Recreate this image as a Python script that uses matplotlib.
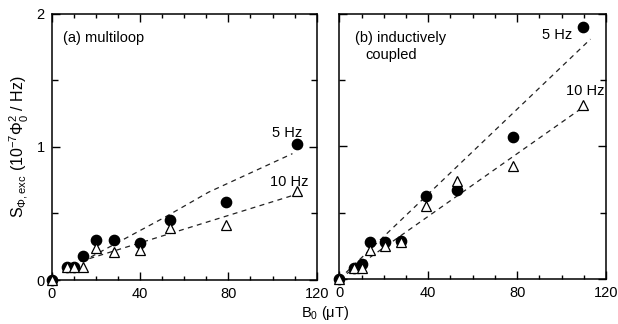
import matplotlib
matplotlib.use("Agg")
import matplotlib.pyplot as plt
from matplotlib.ticker import MultipleLocator

plt.rcParams['font.family'] = ['Liberation Sans', 'DejaVu Sans']
plt.rcParams['mathtext.fontset'] = 'custom'
plt.rcParams['mathtext.rm'] = 'Liberation Sans'
plt.rcParams['mathtext.it'] = 'Liberation Sans:italic'
plt.rcParams['mathtext.bf'] = 'Liberation Sans:bold'

# (a) multiloop
a_b5 = [0, 7, 10, 14, 20, 28, 40, 53.5, 79, 111]
a_s5 = [0, 0.10, 0.10, 0.18, 0.30, 0.30, 0.28, 0.45, 0.59, 1.02]
a_b10 = [0, 7, 10, 14, 20, 28, 40, 53.5, 79, 111]
a_s10 = [0, 0.10, 0.10, 0.10, 0.24, 0.21, 0.225, 0.39, 0.41, 0.67]
a_fit5_x = [14, 51, 71, 109]
a_fit5_y = [0.14, 0.47, 0.66, 0.95]
a_fit10_x = [13, 110]
a_fit10_y = [0.14, 0.64]

# (b) inductively coupled
b_b5 = [0, 6.5, 10, 14, 20.5, 27.6, 39, 53, 78, 109.6]
b_s5 = [0, 0.08, 0.11, 0.28, 0.28, 0.29, 0.63, 0.67, 1.07, 1.90]
b_b10 = [0, 6.5, 10, 14, 20.5, 27.6, 39, 53, 78, 109.6]
b_s10 = [0, 0.08, 0.08, 0.22, 0.25, 0.28, 0.55, 0.74, 0.85, 1.31]
b_fit5_x = [0, 113]
b_fit5_y = [0, 1.81]
b_fit10_x = [0, 110]
b_fit10_y = [0, 1.30]

xticks = [0, 40, 80, 120]
yticks = [0, 1, 2]

fig = plt.figure(figsize=(6.18, 3.24), dpi=100)
axa = fig.add_axes([0.0837, 0.1358, 0.4288, 0.821])
axb = fig.add_axes([0.5490, 0.1389, 0.4316, 0.818])

def style(ax, show_y):
    ax.set_xlim(0, 120)
    ax.set_ylim(0, 2)
    ax.set_xticks(xticks)
    ax.set_yticks(yticks)
    ax.xaxis.set_minor_locator(MultipleLocator(10))
    ax.yaxis.set_minor_locator(MultipleLocator(0.5))
    ax.tick_params(which='both', direction='in', top=True, right=True,
                   labelsize=10.5, width=1.0, pad=5)
    ax.tick_params(which='major', length=5.5)
    ax.tick_params(axis='x', which='minor', length=3)
    ax.tick_params(axis='y', which='minor', length=4.5)
    for s in ax.spines.values():
        s.set_linewidth(1.1)
    if not show_y:
        ax.set_yticklabels([])

def draw(ax, b5, s5, b10, s10, f5x, f5y, f10x, f10y):
    ax.plot(f5x, f5y, ls=(0, (4, 3.5)), color='#222222', lw=0.9, zorder=2)
    ax.plot(f10x, f10y, ls=(0, (4, 3.5)), color='#222222', lw=0.9, zorder=2)
    ax.plot(b5, s5, 'o', ms=7.4, color='black', mec='black', zorder=3, clip_on=False)
    ax.plot(b10, s10, '^', ms=7, mfc='white', mec='black', mew=0.9, zorder=4, clip_on=False)

style(axa, True)
style(axb, False)
draw(axa, a_b5, a_s5, a_b10, a_s10, a_fit5_x, a_fit5_y, a_fit10_x, a_fit10_y)
draw(axb, b_b5, b_s5, b_b10, b_s10, b_fit5_x, b_fit5_y, b_fit10_x, b_fit10_y)

fs = 10.5
axa.text(5.0, 1.82, '(a) multiloop', fontsize=fs, ha='left', va='center')
axa.text(113.5, 1.105, '5 Hz', fontsize=fs, ha='right', va='center')
axa.text(116.5, 0.74, '10 Hz', fontsize=fs, ha='right', va='center')

axb.text(7.0, 1.82, '(b) inductively', fontsize=fs, ha='left', va='center')
axb.text(11.8, 1.69, 'coupled', fontsize=fs, ha='left', va='center')
axb.text(104.8, 1.84, '5 Hz', fontsize=fs, ha='right', va='center')
axb.text(119.3, 1.42, '10 Hz', fontsize=fs, ha='right', va='center')

axa.set_ylabel(r'S$_{\Phi\mathrm{,exc}}$ (10$^{-7}\Phi_0^2$ / Hz)', fontsize=11.5, labelpad=4)
fig.text(0.526, 0.035, 'B$_0$ (μT)', fontsize=fs, ha='center', va='center')

fig.savefig('out.png', dpi=100)
